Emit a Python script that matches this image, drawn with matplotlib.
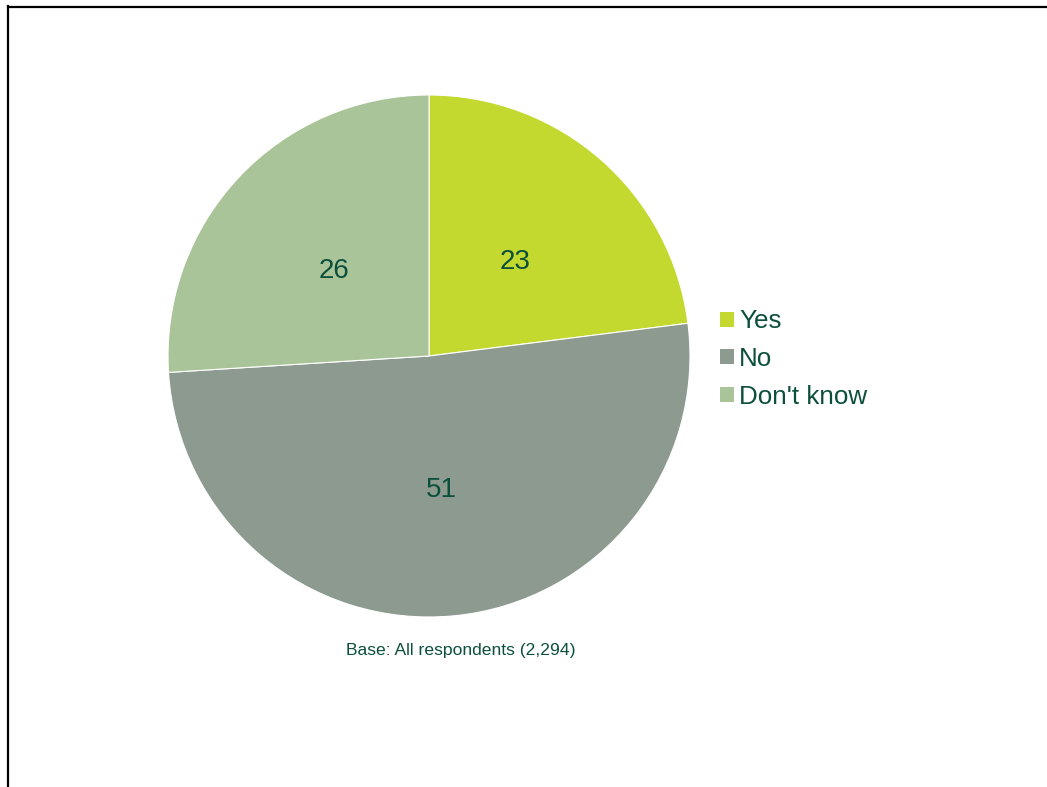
import matplotlib
matplotlib.use("Agg")
import matplotlib.pyplot as plt
from matplotlib.lines import Line2D
from matplotlib.patches import Patch
from matplotlib.transforms import ScaledTranslation

plt.rcParams['font.family'] = ['Liberation Sans', 'DejaVu Sans']

categories = ["Yes", "No", "Don't know"]
values = [23, 51, 26]
colors = ["#C3D92F", "#8C9A90", "#A9C499"]
note = "Base: All respondents (2,294)"
text_color = "#0B4F3C"

W, H = 1047, 787
fig = plt.figure(figsize=(W / 100, H / 100), dpi=100)
fig.patch.set_facecolor("white")

# frame lines along the top and left edges
fig.add_artist(Line2D([7.5 / W, 7.5 / W], [0, 1 - 6 / H], transform=fig.transFigure,
                      color="black", lw=1.6))
fig.add_artist(Line2D([7.5 / W, 1], [1 - 6.5 / H, 1 - 6.5 / H], transform=fig.transFigure,
                      color="black", lw=1.6))

cx, cy, r = 429, 356, 261
ax = fig.add_axes([(cx - r) / W, (H - cy - r) / H, 2 * r / W, 2 * r / H])
wedges, _, autotexts = ax.pie(
    values, colors=colors, startangle=90, counterclock=False,
    autopct=lambda p: f"{p:.0f}", pctdistance=0.5,
    wedgeprops=dict(edgecolor="white", linewidth=0.8),
    textprops=dict(color=text_color, fontsize=20))
shift = ScaledTranslation(0, -4 / 100, fig.dpi_scale_trans)
for t in autotexts:
    t.set_transform(t.get_transform() + shift)
ax.set_xlim(-1, 1)
ax.set_ylim(-1, 1)
ax.set_aspect("equal")
ax.axis("off")

handles = [Patch(facecolor=c, edgecolor="none") for c in colors]
leg = fig.legend(handles, categories, loc="center left",
                 bbox_to_anchor=(720 / W, 1 - 359 / H), bbox_transform=fig.transFigure,
                 frameon=False, fontsize=18.7, handlelength=0.52, handleheight=0.52,
                 handletextpad=0.22, labelspacing=0.52, borderpad=0, borderaxespad=0)
for t in leg.get_texts():
    t.set_color(text_color)

fig.text(461 / W, 1 - 651 / H, note, ha="center", va="center",
         fontsize=12.6, color=text_color)

fig.savefig("out.png", dpi=100, facecolor="white")
